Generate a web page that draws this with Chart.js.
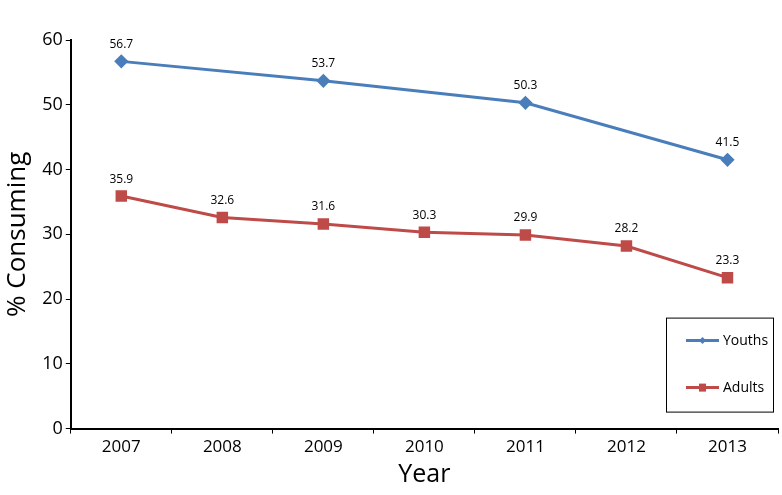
<!DOCTYPE html>
<html>
<head>
<meta charset="utf-8">
<script src="https://cdn.jsdelivr.net/npm/chart.js@4/dist/chart.umd.min.js"></script>
<style>
  html, body { margin: 0; padding: 0; background: #fff; }
  #wrap { width: 782px; height: 495px; position: relative; }
</style>
</head>
<body>
<div id="wrap"><canvas id="chart"></canvas></div>
<script>
// chart data
const years = ["2007", "2008", "2009", "2010", "2011", "2012", "2013"]
const youths = [56.7, null, 53.7, null, 50.3, null, 41.5]
const adults = [35.9, 32.6, 31.6, 30.3, 29.9, 28.2, 23.3]
const yTicks = [0, 10, 20, 30, 40, 50, 60]

const FONT = "'Open Sans', 'DejaVu Sans', sans-serif"
const BLUE = "#4a7ebb"
const RED = "#be4b48"

// value labels above each point
const valueLabels = {
  id: "valueLabels",
  afterDatasetsDraw(chart) {
    const ctx = chart.ctx
    ctx.save()
    ctx.font = "12px " + FONT
    ctx.fillStyle = "#000"
    ctx.textAlign = "center"
    ctx.textBaseline = "bottom"
    chart.data.datasets.forEach((ds, i) => {
      chart.getDatasetMeta(i).data.forEach((pt, j) => {
        const v = ds.data[j]
        if (v === null) return
        ctx.fillText(v.toFixed(1), pt.x, pt.y - 11)
      })
    })
    ctx.restore()
  },
}

// boxed legend in the lower right corner of the plot
const boxLegend = {
  id: "boxLegend",
  afterDraw(chart) {
    const ctx = chart.ctx
    const area = chart.chartArea
    const w = 107, h = 94
    const x = area.right - 112, y = area.bottom - 111
    ctx.save()
    ctx.fillStyle = "#fff"
    ctx.fillRect(x, y, w, h)
    ctx.strokeStyle = "#000"
    ctx.lineWidth = 1
    ctx.strokeRect(x + 0.5, y + 0.5, w, h)
    ctx.font = "14px " + FONT
    ctx.textBaseline = "middle"
    chart.data.datasets.forEach((ds, i) => {
      const cy = y + 23 + i * 47
      ctx.strokeStyle = ds.borderColor
      ctx.lineWidth = 3
      ctx.beginPath()
      ctx.moveTo(x + 20, cy)
      ctx.lineTo(x + 53, cy)
      ctx.stroke()
      ctx.fillStyle = ds.borderColor
      if (ds.pointStyle === "rectRot") {
        ctx.beginPath()
        ctx.moveTo(x + 36.5, cy - 3.5)
        ctx.lineTo(x + 40, cy)
        ctx.lineTo(x + 36.5, cy + 3.5)
        ctx.lineTo(x + 33, cy)
        ctx.closePath()
        ctx.fill()
      } else {
        ctx.fillRect(x + 33, cy - 4, 7, 8)
      }
      ctx.fillStyle = "#000"
      ctx.textAlign = "left"
      ctx.fillText(ds.label, x + 57, cy)
    })
    ctx.restore()
  },
}

new Chart(document.getElementById("chart"), {
  type: "line",
  data: {
    labels: years,
    datasets: [
      {
        label: "Youths",
        data: youths,
        borderColor: BLUE,
        backgroundColor: BLUE,
        borderWidth: 3,
        pointStyle: "rectRot",
        pointRadius: 5,
        pointHoverRadius: 5,
        spanGaps: true,
        tension: 0,
      },
      {
        label: "Adults",
        data: adults,
        borderColor: RED,
        backgroundColor: RED,
        borderWidth: 3,
        pointStyle: "rect",
        pointRadius: 6,
        pointHoverRadius: 6,
        tension: 0,
      },
    ],
  },
  options: {
    responsive: true,
    maintainAspectRatio: false,
    animation: false,
    layout: { autoPadding: false, padding: { top: 40, right: 4, left: 2, bottom: 5 } },
    plugins: {
      legend: { display: false },
      tooltip: { enabled: false },
    },
    scales: {
      x: {
        offset: true,
        grid: {
          offset: true,
          drawOnChartArea: false,
          drawTicks: true,
          tickLength: 5,
          color: "#000",
          lineWidth: 1,
        },
        border: { color: "#000", width: 2 },
        ticks: { color: "#000", font: { family: FONT, size: 17 }, padding: 3 },
        title: {
          display: true,
          text: "Year",
          color: "#000",
          font: { family: FONT, size: 25 },
          padding: { top: 0, bottom: 0 },
        },
      },
      y: {
        min: 0,
        max: 60,
        afterBuildTicks: (axis) => {
          axis.ticks = yTicks.map((v) => ({ value: v }))
        },
        grid: {
          drawOnChartArea: false,
          drawTicks: true,
          tickLength: 5,
          color: "#000",
          lineWidth: 1,
        },
        border: { color: "#000", width: 2 },
        ticks: { color: "#000", font: { family: FONT, size: 18 }, padding: 3 },
        title: {
          display: true,
          text: "% Consuming",
          color: "#000",
          font: { family: FONT, size: 26 },
          padding: { top: 0, bottom: 6 },
        },
      },
    },
  },
  plugins: [valueLabels, boxLegend],
})
</script>
</body>
</html>
